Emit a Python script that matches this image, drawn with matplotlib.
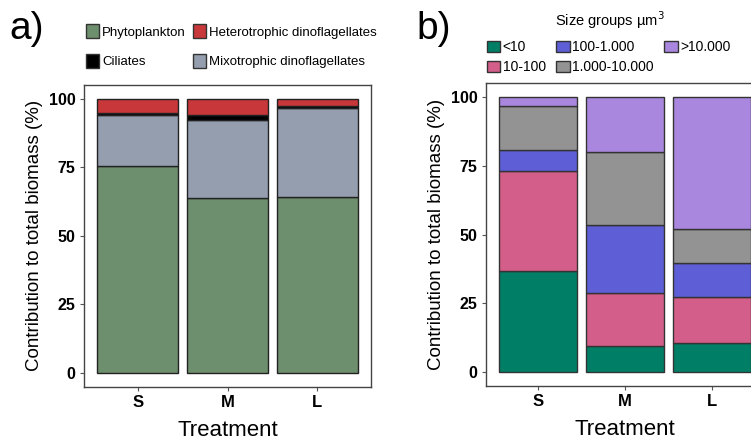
import matplotlib
matplotlib.use("Agg")
import matplotlib.pyplot as plt
from matplotlib.patches import Patch

plt.rcParams['font.family'] = ['Liberation Sans', 'DejaVu Sans']

# data
treatments = ['S', 'M', 'L']

# panel a: layer values
phyto = [75.6, 63.9, 64.0]
mixo = [18.3, 28.5, 32.5]
ciliates = [0.9, 1.8, 1.0]
hetero = [5.2, 5.8, 2.5]

# panel b: size groups (um^3)
size_lt10 = [36.6, 9.4, 10.6]
size_10_100 = [36.4, 19.2, 16.8]
size_100_1000 = [7.6, 24.8, 12.3]
size_1000_10000 = [16.1, 26.6, 12.4]
size_gt10000 = [3.3, 20.0, 47.9]

col_a = {'Phytoplankton': '#6E8F6E', 'Mixotrophic dinoflagellates': '#959EAE',
         'Ciliates': '#000000', 'Heterotrophic dinoflagellates': '#C8373A'}
col_b = ['#007F66', '#D45E8A', '#5E5ED6', '#939393', '#A987DE']
labels_b = ['<10', '10-100', '100-1.000', '1.000-10.000', '>10.000']

fig = plt.figure(figsize=(7.51, 4.43), dpi=100)


def style_axes(ax):
    ax.set_xlim(0.4, 3.6)
    ax.set_ylim(-5, 105)
    ax.set_xticks([1, 2, 3])
    ax.set_xticklabels(treatments, fontsize=12, fontweight='bold')
    ax.set_yticks([0, 25, 50, 75, 100])
    ax.set_yticklabels(['0', '25', '50', '75', '100'], fontsize=11.5, fontweight='bold')
    ax.tick_params(length=3, width=0.8, color='#555555', pad=3)
    for s in ax.spines.values():
        s.set_color('#444444')
        s.set_linewidth(1.0)
    ax.set_xlabel('Treatment', fontsize=16, labelpad=7)
    ax.set_ylabel('Contribution to total biomass (%)', fontsize=13.5, labelpad=4)


x = [1, 2, 3]

# ---- panel a
ax1 = fig.add_axes([0.1119, 0.1271, 0.3822, 0.681])
bottom = [0, 0, 0]
for name, vals in [('Phytoplankton', phyto), ('Mixotrophic dinoflagellates', mixo),
                   ('Ciliates', ciliates), ('Heterotrophic dinoflagellates', hetero)]:
    ax1.bar(x, vals, bottom=bottom, width=0.9, color=col_a[name],
            edgecolor='#222222', linewidth=1.0)
    bottom = [b + v for b, v in zip(bottom, vals)]
style_axes(ax1)

handles_a = [Patch(facecolor=col_a[k], edgecolor='#333333', label=k)
             for k in ['Phytoplankton', 'Ciliates', 'Heterotrophic dinoflagellates',
                       'Mixotrophic dinoflagellates']]
fig.legend(handles=handles_a, ncol=2, loc='upper left', bbox_to_anchor=(0.106, 0.96),
           frameon=False, fontsize=9.5, handlelength=0.95, handleheight=1.25,
           handletextpad=0.25, columnspacing=0.55, labelspacing=1.15, borderpad=0)
fig.text(0.012, 0.975, 'a)', fontsize=28, va='top', ha='left')

# ---- panel b
ax2 = fig.add_axes([0.647, 0.1287, 0.370, 0.6839])
bottom = [0, 0, 0]
for vals, c in zip([size_lt10, size_10_100, size_100_1000, size_1000_10000, size_gt10000], col_b):
    ax2.bar(x, vals, bottom=bottom, width=0.9, color=c, edgecolor='#333333', linewidth=1.0)
    bottom = [b + v for b, v in zip(bottom, vals)]
style_axes(ax2)

handles_b = [Patch(facecolor=c, edgecolor='#333333', label=l) for c, l in zip(col_b, labels_b)]
fig.legend(handles=handles_b, ncol=3, loc='upper left', bbox_to_anchor=(0.639, 0.925),
           frameon=False, fontsize=10, handlelength=0.95, handleheight=0.9,
           handletextpad=0.2, columnspacing=0.75, labelspacing=0.45, borderpad=0)
fig.text(0.812, 0.978, 'Size groups µm$^3$', fontsize=10.5, va='top', ha='center')
fig.text(0.555, 0.975, 'b)', fontsize=28, va='top', ha='left')

fig.savefig('out.png', dpi=100)
